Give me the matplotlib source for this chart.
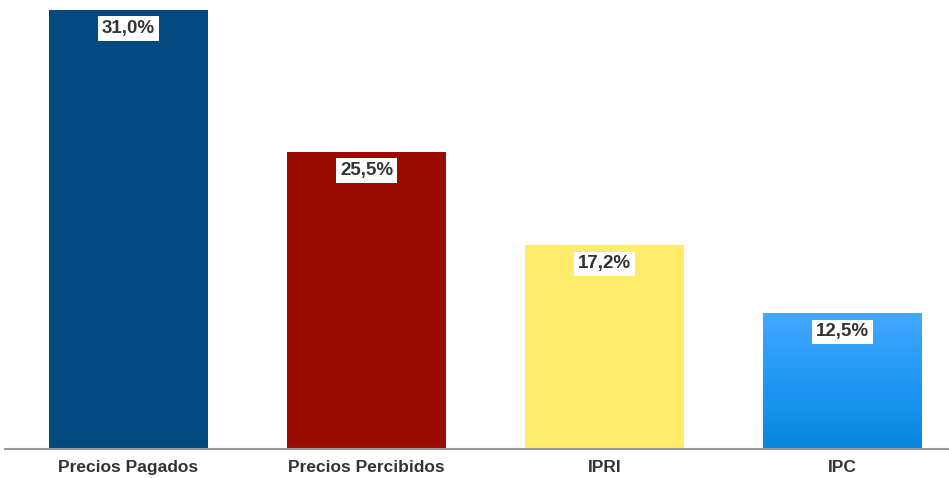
import matplotlib.pyplot as plt
import numpy as np
from matplotlib.colors import LinearSegmentedColormap

plt.rcParams['font.family'] = ['Liberation Sans', 'DejaVu Sans']

categories = ["Precios Pagados", "Precios Percibidos", "IPRI", "IPC"]
values = [31.0, 25.5, 17.2, 12.5]
# bar heights as drawn in the picture (the drawing is not to scale)
heights = [31.0, 21.0, 14.4, 9.6]
colors = ["#034A80", "#990A00", "#FFEC6B", "#1E96F0"]

fig = plt.figure(figsize=(9.49, 4.78), dpi=100)
ax = fig.add_axes([5 / 949, 29 / 478, 944 / 949, 449 / 478])

x = np.arange(len(categories))
bars = ax.bar(x, heights, width=0.668, color=colors)

# gradient on the last bar
grad = LinearSegmentedColormap.from_list("ipc", ["#0A86DE", "#1E98F5", "#45A8FF"])
b = bars[-1]
bx, bw, bh = b.get_x(), b.get_width(), b.get_height()
img = ax.imshow(np.linspace(0, 1, 256).reshape(-1, 1), cmap=grad, origin="lower",
                extent=[bx, bx + bw, 0, bh], aspect="auto", zorder=2)
img.set_clip_path(b)

for xi, h, v in zip(x, heights, values):
    ax.annotate(f"{v:.1f}%".replace(".", ","), (xi, h), xytext=(0, -13.5),
                textcoords="offset points", ha="center", va="center",
                fontsize=13.5, fontweight="bold", color="#333333", zorder=5,
                bbox=dict(boxstyle="square,pad=0.2", fc="white", ec="none"))

ax.set_xlim(-0.519, 3.447)
ax.set_ylim(0, 31.7)
ax.set_xticks(x)
ax.set_xticklabels(categories, fontsize=12.5, fontweight="bold", color="#333333")
ax.tick_params(axis="x", length=0, pad=8)
ax.set_yticks([])
for s in ["top", "right", "left"]:
    ax.spines[s].set_visible(False)
ax.spines["bottom"].set_color("#999999")
ax.spines["bottom"].set_linewidth(1.5)

fig.savefig("out.png", dpi=100)
